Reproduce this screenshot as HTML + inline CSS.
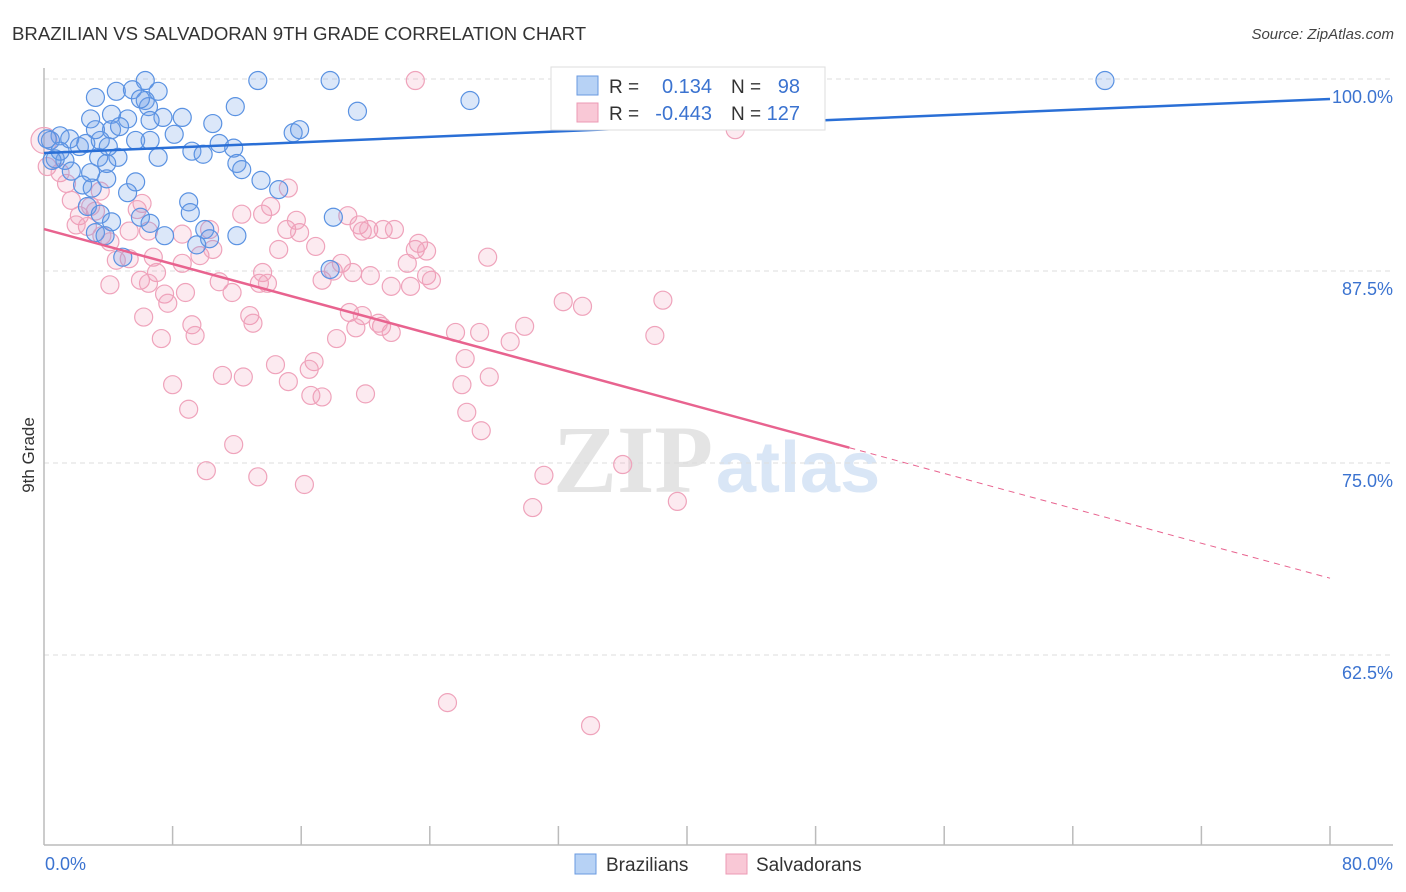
<!DOCTYPE html>
<html><head><meta charset="utf-8"><style>
body{margin:0;background:#fff;width:1406px;height:892px;overflow:hidden;font-family:"Liberation Sans",sans-serif}
svg{display:block}
</style></head><body>
<svg id="chart" width="1406" height="892">
<text x="12" y="40" font-size="18.6" fill="#333">BRAZILIAN VS SALVADORAN 9TH GRADE CORRELATION CHART</text>
<text x="1394" y="39" font-size="15" fill="#444" font-style="italic" text-anchor="end">Source: ZipAtlas.com</text>
<text transform="translate(34,455) rotate(-90)" font-size="17" fill="#333" text-anchor="middle">9th Grade</text>
<g>
<text x="553" y="492" font-size="96" fill="#e4e4e4" font-family="Liberation Serif,serif" font-weight="bold">ZIP</text>
<text x="716" y="492" font-size="72" fill="#d9e6f6" font-weight="bold">atlas</text>
</g>
<g id="grid"></g><g id="axes"></g><g id="pts"></g><g id="lines"></g>
<g>
<rect x="551" y="67" width="274" height="63" fill="#fff" stroke="#ddd"/>
<rect x="577" y="76" width="21" height="19" fill="#b7d2f5" stroke="#6a9ae0"/>
<rect x="577" y="103" width="21" height="19" fill="#f9c8d6" stroke="#ec9ab4"/>
<text x="609" y="93" font-size="19" fill="#333">R =</text>
<text x="712" y="93" font-size="20" fill="#3b73d0" text-anchor="end">0.134</text>
<text x="731" y="93" font-size="19" fill="#333">N =</text>
<text x="800" y="93" font-size="20" fill="#3b73d0" text-anchor="end">98</text>
<text x="609" y="120" font-size="19" fill="#333">R =</text>
<text x="712" y="120" font-size="20" fill="#3b73d0" text-anchor="end">-0.443</text>
<text x="731" y="120" font-size="19" fill="#333">N =</text>
<text x="800" y="120" font-size="20" fill="#3b73d0" text-anchor="end">127</text>
</g>
<g>
<rect x="575" y="854" width="21" height="20" fill="#b7d2f5" stroke="#6a9ae0"/>
<text x="606" y="871" font-size="19" fill="#333">Brazilians</text>
<rect x="726" y="854" width="21" height="20" fill="#f9c8d6" stroke="#ec9ab4"/>
<text x="756" y="871" font-size="19" fill="#333">Salvadorans</text>
</g>
</svg>
<script>
const yTicks=[100,87.5,75,62.5];
const yTickLabels=["100.0%","87.5%","75.0%","62.5%"];
const xTickLabels=["0.0%","80.0%"];
const blueX=[6.3,13.3,17.8,66.0,4.5,5.5,7.1,6.3,3.2,6.5,26.5,19.5,11.9,4.2,5.2,7.4,8.6,10.5,2.9,6.6,8.1,4.2,5.7,15.5,15.9,10.9,11.8,9.2,9.9,7.1,12.0,12.3,13.5,14.6,5.7,5.2,3.9,3.4,4.6,3.9,1.0,0.4,1.6,2.2,2.6,1.3,0.7,1.7,2.9,2.4,3.0,2.7,3.5,4.2,6.0,6.6,9.0,9.1,10.0,10.3,9.5,12.0,7.5,4.9,3.2,18.0,17.8,3.5,1.0,0.5,0.2,4.0,6.0,4.7,3.2,6.6,3.8];
const blueY=[99.9,99.9,99.9,99.9,99.2,99.3,99.2,98.6,98.8,98.2,98.6,97.9,98.2,97.7,97.4,97.5,97.5,97.1,97.4,97.3,96.4,96.7,96.0,96.5,96.7,95.8,95.5,95.3,95.1,94.9,94.5,94.1,93.4,92.8,93.3,92.6,93.5,94.9,94.9,94.5,96.3,96.0,96.1,95.6,95.8,94.7,94.8,94.0,93.9,93.1,92.9,91.7,91.2,90.7,91.0,90.6,92.0,91.3,90.2,89.6,89.2,89.8,89.8,88.4,90.0,91.0,87.6,96.0,95.3,94.7,96.1,95.6,98.7,96.9,96.7,96.0,89.8];
const pinkX=[23.1,43.0,0.0,0.2,1.0,1.4,1.7,2.2,2.7,3.2,3.6,4.1,5.3,6.1,6.5,6.8,7.0,7.5,7.7,8.6,8.8,8.6,9.7,10.3,10.5,10.9,11.7,12.3,12.8,13.0,13.4,13.6,13.9,13.6,14.1,14.6,15.2,15.1,15.9,15.7,16.9,17.3,18.0,18.5,19.2,19.6,19.8,18.9,20.2,21.1,21.8,22.6,23.1,23.3,23.8,23.8,24.1,20.3,21.6,22.8,19.0,19.8,19.4,21.0,21.6,20.8,18.2,14.4,16.8,16.5,15.2,17.3,16.6,20.0,12.4,11.1,11.8,13.3,16.2,10.1,9.0,8.0,9.2,9.4,7.3,6.2,4.1,6.0,6.5,5.3,25.6,26.2,26.0,26.3,27.2,27.1,29.0,29.9,27.7,27.6,32.3,33.5,38.5,38.0,31.1,30.4,36.0,39.4,25.1,34.0,3.5,2.9,2.0,4.5,5.8];
const pinkY=[99.9,96.7,96.0,94.3,93.9,93.2,92.1,91.1,90.4,91.4,89.8,89.4,90.1,91.9,90.1,88.4,87.4,86.0,85.4,88.0,86.1,89.9,88.5,90.2,88.9,86.8,86.1,91.2,84.6,84.1,86.7,87.4,86.7,91.2,91.7,88.9,92.9,90.2,90.0,90.8,89.1,86.9,87.5,88.0,87.4,90.5,90.1,91.1,90.2,90.2,90.2,88.0,88.9,89.3,88.8,87.2,86.9,87.2,86.5,86.5,84.8,84.6,83.8,83.9,83.5,84.1,83.1,81.4,81.6,81.1,80.3,79.3,79.4,79.5,80.6,80.7,76.2,74.1,73.6,74.5,78.5,80.1,84.0,83.3,83.1,84.5,86.6,86.9,86.7,88.3,83.5,81.8,80.1,78.3,77.1,83.5,82.9,83.9,80.6,88.4,85.5,85.2,85.6,83.3,74.2,72.1,74.9,72.5,59.4,57.9,92.7,91.7,90.5,88.2,91.5];
const blueTrend=[95.18,98.7];
const pinkTrend=[90.23,67.5];
const pinkSolidEnd=50.1;

const NS="http://www.w3.org/2000/svg";
const X0=44,X1=1330,Y100=79,PXPER=192/12.5;
const sx=v=>X0+(X1-X0)*v/80;
const sy=v=>Y100+(100-v)*PXPER;
function mk(tag,attrs,parent){const e=document.createElementNS(NS,tag);for(const k in attrs)e.setAttribute(k,attrs[k]);parent.appendChild(e);return e;}
const grid=document.getElementById('grid'),axes=document.getElementById('axes'),pts=document.getElementById('pts'),lines=document.getElementById('lines');
yTicks.forEach((t,i)=>{
 const l=mk('line',{x1:X0,x2:1393,y1:sy(t),y2:sy(t),stroke:'#ddd','stroke-dasharray':'5,4'},grid);
 
 
 const tx=mk('text',{x:1393,y:sy(t)+24,'font-size':18,fill:'#3b73d0','text-anchor':'end'},grid);
 tx.textContent=yTickLabels[i];
 
 
});
let a=mk('line',{x1:X0,x2:X0,y1:68,y2:845,stroke:'#bbb','stroke-width':1.5},axes);


a=mk('line',{x1:X0,x2:1393,y1:845,y2:845,stroke:'#bbb','stroke-width':1.5},axes);


for(let i=1;i<=10;i++){const t=mk('line',{x1:sx(i*8),x2:sx(i*8),y1:826,y2:845,stroke:'#bbb','stroke-width':1.5},axes);
 
 }
[[0,'start',45],[80,'end',1393]].forEach((d,i)=>{const t=mk('text',{x:d[2],y:870,'font-size':18,fill:'#3b73d0','text-anchor':d[1]},axes);t.textContent=xTickLabels[i];
 
 });
pinkX.forEach((x,i)=>{const c=mk('circle',{cx:sx(x),cy:sy(pinkY[i]),r:i==2?13:9,fill:'rgba(242,150,178,0.2)',stroke:'#efa3bb','stroke-width':1.2},pts);
 
 });
blueX.forEach((x,i)=>{const c=mk('circle',{cx:sx(x),cy:sy(blueY[i]),r:9,fill:'rgba(110,160,230,0.25)',stroke:'#5a92e2','stroke-width':1.2},pts);
 
 });
let ln=mk('line',{x1:sx(0),y1:sy(blueTrend[0]),x2:sx(80),y2:sy(blueTrend[1]),stroke:'#2a6fd6','stroke-width':2.5},lines);


const pm=(pinkTrend[1]-pinkTrend[0])/80, py=pinkTrend[0]+pm*pinkSolidEnd;
ln=mk('line',{x1:sx(0),y1:sy(pinkTrend[0]),x2:sx(pinkSolidEnd),y2:sy(py),stroke:'#e8638f','stroke-width':2.5},lines);


ln=mk('line',{x1:sx(pinkSolidEnd),y1:sy(py),x2:sx(80),y2:sy(pinkTrend[1]),stroke:'#e8638f','stroke-width':1,'stroke-dasharray':'6,5'},lines);


</script>
</body></html>
